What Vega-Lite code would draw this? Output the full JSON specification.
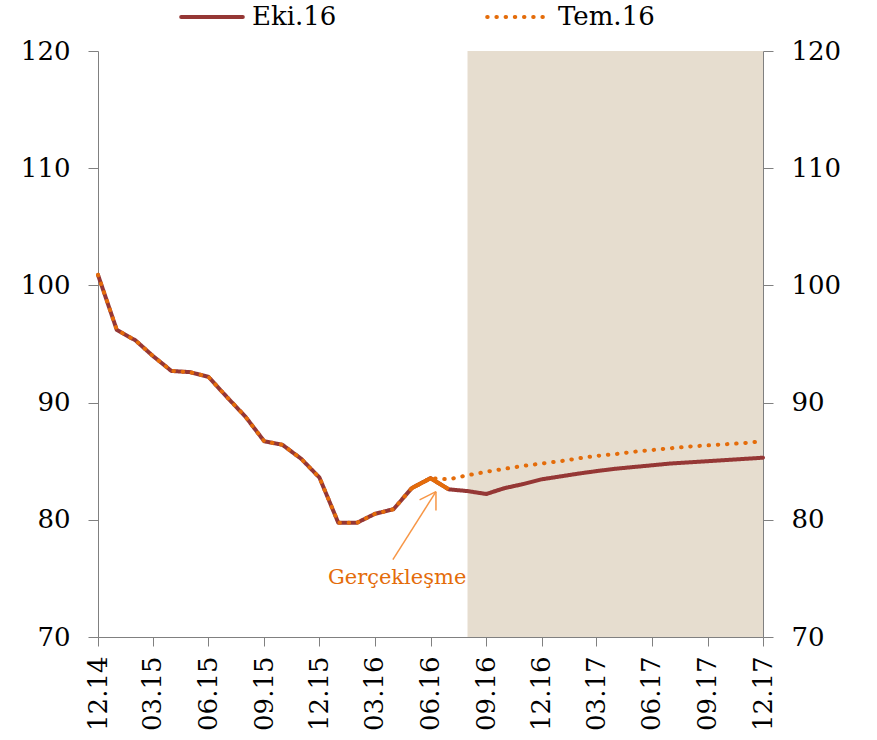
{
  "$schema": "https://vega.github.io/schema/vega-lite/v6.json",
  "width": 665,
  "height": 586,
  "autosize": {"type": "none"},
  "padding": {"left": 98, "top": 51, "right": 114, "bottom": 103},
  "background": "white",
  "config": {
    "view": {"stroke": null},
    "font": "DejaVu Serif",
    "axis": {
      "grid": false,
      "title": null,
      "domainColor": "#808080",
      "tickColor": "#808080",
      "labelColor": "#000000",
      "labelFont": "DejaVu Serif",
      "labelFontSize": 26,
      "labelFlush": false,
      "labelOverlap": false,
      "labelBound": false
    }
  },
  "datasets": {
    "lines": [
      {"date": "2014-12-01", "series": "Eki.16", "value": 100.9},
      {"date": "2015-01-01", "series": "Eki.16", "value": 96.2},
      {"date": "2015-02-01", "series": "Eki.16", "value": 95.3},
      {"date": "2015-03-01", "series": "Eki.16", "value": 94.0},
      {"date": "2015-04-01", "series": "Eki.16", "value": 92.7},
      {"date": "2015-05-01", "series": "Eki.16", "value": 92.6},
      {"date": "2015-06-01", "series": "Eki.16", "value": 92.2},
      {"date": "2015-07-01", "series": "Eki.16", "value": 90.5},
      {"date": "2015-08-01", "series": "Eki.16", "value": 88.8},
      {"date": "2015-09-01", "series": "Eki.16", "value": 86.7},
      {"date": "2015-10-01", "series": "Eki.16", "value": 86.4},
      {"date": "2015-11-01", "series": "Eki.16", "value": 85.2},
      {"date": "2015-12-01", "series": "Eki.16", "value": 83.6},
      {"date": "2016-01-01", "series": "Eki.16", "value": 79.75},
      {"date": "2016-02-01", "series": "Eki.16", "value": 79.75},
      {"date": "2016-03-01", "series": "Eki.16", "value": 80.5},
      {"date": "2016-04-01", "series": "Eki.16", "value": 80.9},
      {"date": "2016-05-01", "series": "Eki.16", "value": 82.7},
      {"date": "2016-06-01", "series": "Eki.16", "value": 83.55},
      {"date": "2016-07-01", "series": "Eki.16", "value": 82.6},
      {"date": "2016-08-01", "series": "Eki.16", "value": 82.45},
      {"date": "2016-09-01", "series": "Eki.16", "value": 82.2},
      {"date": "2016-10-01", "series": "Eki.16", "value": 82.7},
      {"date": "2016-11-01", "series": "Eki.16", "value": 83.05},
      {"date": "2016-12-01", "series": "Eki.16", "value": 83.45},
      {"date": "2017-01-01", "series": "Eki.16", "value": 83.7},
      {"date": "2017-02-01", "series": "Eki.16", "value": 83.95},
      {"date": "2017-03-01", "series": "Eki.16", "value": 84.15},
      {"date": "2017-04-01", "series": "Eki.16", "value": 84.35},
      {"date": "2017-05-01", "series": "Eki.16", "value": 84.5},
      {"date": "2017-06-01", "series": "Eki.16", "value": 84.65},
      {"date": "2017-07-01", "series": "Eki.16", "value": 84.8},
      {"date": "2017-08-01", "series": "Eki.16", "value": 84.9},
      {"date": "2017-09-01", "series": "Eki.16", "value": 85.0},
      {"date": "2017-10-01", "series": "Eki.16", "value": 85.1},
      {"date": "2017-11-01", "series": "Eki.16", "value": 85.2},
      {"date": "2017-12-01", "series": "Eki.16", "value": 85.3},
      {"date": "2014-12-01", "series": "Tem.16", "value": 100.9},
      {"date": "2015-01-01", "series": "Tem.16", "value": 96.2},
      {"date": "2015-02-01", "series": "Tem.16", "value": 95.3},
      {"date": "2015-03-01", "series": "Tem.16", "value": 94.0},
      {"date": "2015-04-01", "series": "Tem.16", "value": 92.7},
      {"date": "2015-05-01", "series": "Tem.16", "value": 92.6},
      {"date": "2015-06-01", "series": "Tem.16", "value": 92.2},
      {"date": "2015-07-01", "series": "Tem.16", "value": 90.5},
      {"date": "2015-08-01", "series": "Tem.16", "value": 88.8},
      {"date": "2015-09-01", "series": "Tem.16", "value": 86.7},
      {"date": "2015-10-01", "series": "Tem.16", "value": 86.4},
      {"date": "2015-11-01", "series": "Tem.16", "value": 85.2},
      {"date": "2015-12-01", "series": "Tem.16", "value": 83.6},
      {"date": "2016-01-01", "series": "Tem.16", "value": 79.75},
      {"date": "2016-02-01", "series": "Tem.16", "value": 79.75},
      {"date": "2016-03-01", "series": "Tem.16", "value": 80.5},
      {"date": "2016-04-01", "series": "Tem.16", "value": 80.9},
      {"date": "2016-05-01", "series": "Tem.16", "value": 82.7},
      {"date": "2016-06-01", "series": "Tem.16", "value": 83.55},
      {"date": "2016-07-01", "series": "Tem.16", "value": 83.45},
      {"date": "2016-08-01", "series": "Tem.16", "value": 83.8},
      {"date": "2016-09-01", "series": "Tem.16", "value": 84.1},
      {"date": "2016-10-01", "series": "Tem.16", "value": 84.35},
      {"date": "2016-11-01", "series": "Tem.16", "value": 84.6},
      {"date": "2016-12-01", "series": "Tem.16", "value": 84.8},
      {"date": "2017-01-01", "series": "Tem.16", "value": 85.0},
      {"date": "2017-02-01", "series": "Tem.16", "value": 85.25},
      {"date": "2017-03-01", "series": "Tem.16", "value": 85.45},
      {"date": "2017-04-01", "series": "Tem.16", "value": 85.6},
      {"date": "2017-05-01", "series": "Tem.16", "value": 85.8},
      {"date": "2017-06-01", "series": "Tem.16", "value": 85.95},
      {"date": "2017-07-01", "series": "Tem.16", "value": 86.1},
      {"date": "2017-08-01", "series": "Tem.16", "value": 86.25},
      {"date": "2017-09-01", "series": "Tem.16", "value": 86.35},
      {"date": "2017-10-01", "series": "Tem.16", "value": 86.45},
      {"date": "2017-11-01", "series": "Tem.16", "value": 86.55},
      {"date": "2017-12-01", "series": "Tem.16", "value": 86.7}
    ],
    "realized": [
      {"date": "2016-05-01", "value": 82.7},
      {"date": "2016-06-01", "value": 83.55},
      {"date": "2016-07-01", "value": 82.6}
    ],
    "shade": [
      {"date": "2016-08-01", "end": "2017-12-01", "value": 70, "value2": 120}
    ],
    "arrow": [
      {"date": "2016-03-31", "end": "2016-06-10", "value": 76.6, "value2": 82.4},
      {"date": "2016-06-10", "end": "2016-06-10", "value": 82.4, "value2": 80.8},
      {"date": "2016-05-14", "end": "2016-06-10", "value": 81.7, "value2": 82.4}
    ],
    "label": [
      {"date": "2016-04-07", "value": 75.0, "text": "Gerçekleşme"}
    ]
  },
  "encoding": {
    "x": {
      "field": "date",
      "type": "temporal",
      "scale": {
        "type": "utc",
        "domain": [
          {"year": 2014, "month": 12, "date": 1, "utc": true},
          {"year": 2017, "month": 12, "date": 1, "utc": true}
        ]
      },
      "axis": {
        "title": null,
        "values": [
          {"year": 2014, "month": 12, "date": 1, "utc": true},
          {"year": 2015, "month": 3, "date": 1, "utc": true},
          {"year": 2015, "month": 6, "date": 1, "utc": true},
          {"year": 2015, "month": 9, "date": 1, "utc": true},
          {"year": 2015, "month": 12, "date": 1, "utc": true},
          {"year": 2016, "month": 3, "date": 1, "utc": true},
          {"year": 2016, "month": 6, "date": 1, "utc": true},
          {"year": 2016, "month": 9, "date": 1, "utc": true},
          {"year": 2016, "month": 12, "date": 1, "utc": true},
          {"year": 2017, "month": 3, "date": 1, "utc": true},
          {"year": 2017, "month": 6, "date": 1, "utc": true},
          {"year": 2017, "month": 9, "date": 1, "utc": true},
          {"year": 2017, "month": 12, "date": 1, "utc": true}
        ],
        "labelExpr": "utcFormat(datum.value, '%m.%y')",
        "labelAngle": -90,
        "labelAlign": "right",
        "labelBaseline": "middle",
        "tickSize": 9,
        "labelPadding": 10
      }
    },
    "y": {
      "field": "value",
      "type": "quantitative",
      "scale": {"domain": [70, 120], "nice": false, "zero": false},
      "axis": null
    }
  },
  "layer": [
    {
      "data": {"name": "shade"},
      "mark": {"type": "rect", "color": "#E6DDCF"},
      "encoding": {
        "x2": {"field": "end"},
        "y2": {"field": "value2"}
      }
    },
    {
      "data": {"name": "lines"},
      "mark": {"type": "line", "strokeWidth": 4, "strokeCap": "round", "strokeJoin": "round"},
      "encoding": {
        "y": {
          "field": "value",
          "type": "quantitative",
          "scale": {"domain": [70, 120], "nice": false, "zero": false},
          "axis": {
            "title": null,
            "orient": "left",
            "values": [70, 80, 90, 100, 110, 120],
            "tickSize": 10,
            "labelPadding": 18
          }
        },
        "color": {
          "field": "series",
          "type": "nominal",
          "scale": {"domain": ["Eki.16", "Tem.16"], "range": ["#953735", "#E46C0A"]},
          "legend": {
            "title": null,
            "orient": "none",
            "legendX": 81,
            "legendY": -67,
            "direction": "horizontal",
            "symbolType": "stroke",
            "symbolSize": 3800,
            "symbolStrokeWidth": 4,
            "labelFont": "DejaVu Serif",
            "labelFontSize": 26,
            "labelColor": "#000000",
            "labelOffset": 7,
            "columnPadding": 142,
            "encode": {"symbols": {"update": {"strokeCap": {"value": "round"}}}}
          }
        },
        "strokeDash": {
          "field": "series",
          "type": "nominal",
          "scale": {"domain": ["Eki.16", "Tem.16"], "range": [[1, 0], [0.5, 8.7]]},
          "legend": {
            "title": null,
            "orient": "none",
            "legendX": 81,
            "legendY": -67,
            "direction": "horizontal",
            "symbolType": "stroke",
            "symbolSize": 3800,
            "symbolStrokeWidth": 4,
            "labelFont": "DejaVu Serif",
            "labelFontSize": 26,
            "labelColor": "#000000",
            "labelOffset": 7,
            "columnPadding": 142,
            "encode": {"symbols": {"update": {"strokeCap": {"value": "round"}}}}
          }
        }
      }
    },
    {
      "data": {"name": "realized"},
      "mark": {"type": "line", "strokeWidth": 4, "color": "#E46C0A", "strokeJoin": "round"},
      "encoding": {}
    },
    {
      "data": {"name": "arrow"},
      "mark": {"type": "rule", "color": "#F79646", "strokeWidth": 1.5},
      "encoding": {
        "x2": {"field": "end"},
        "y2": {"field": "value2"}
      }
    },
    {
      "data": {"name": "label"},
      "mark": {"type": "text", "color": "#E46C0A", "fontSize": 21, "font": "DejaVu Serif", "align": "center", "baseline": "middle"},
      "encoding": {"text": {"field": "text"}}
    },
    {
      "data": {"name": "realized"},
      "mark": {"type": "line", "opacity": 0},
      "encoding": {
        "y": {
          "field": "value",
          "type": "quantitative",
          "scale": {"domain": [70, 120], "nice": false, "zero": false},
          "axis": {
            "title": null,
            "orient": "right",
            "values": [70, 80, 90, 100, 110, 120],
            "tickSize": 10,
            "labelPadding": 18
          }
        }
      }
    }
  ],
  "resolve": {"axis": {"y": "independent"}}
}
